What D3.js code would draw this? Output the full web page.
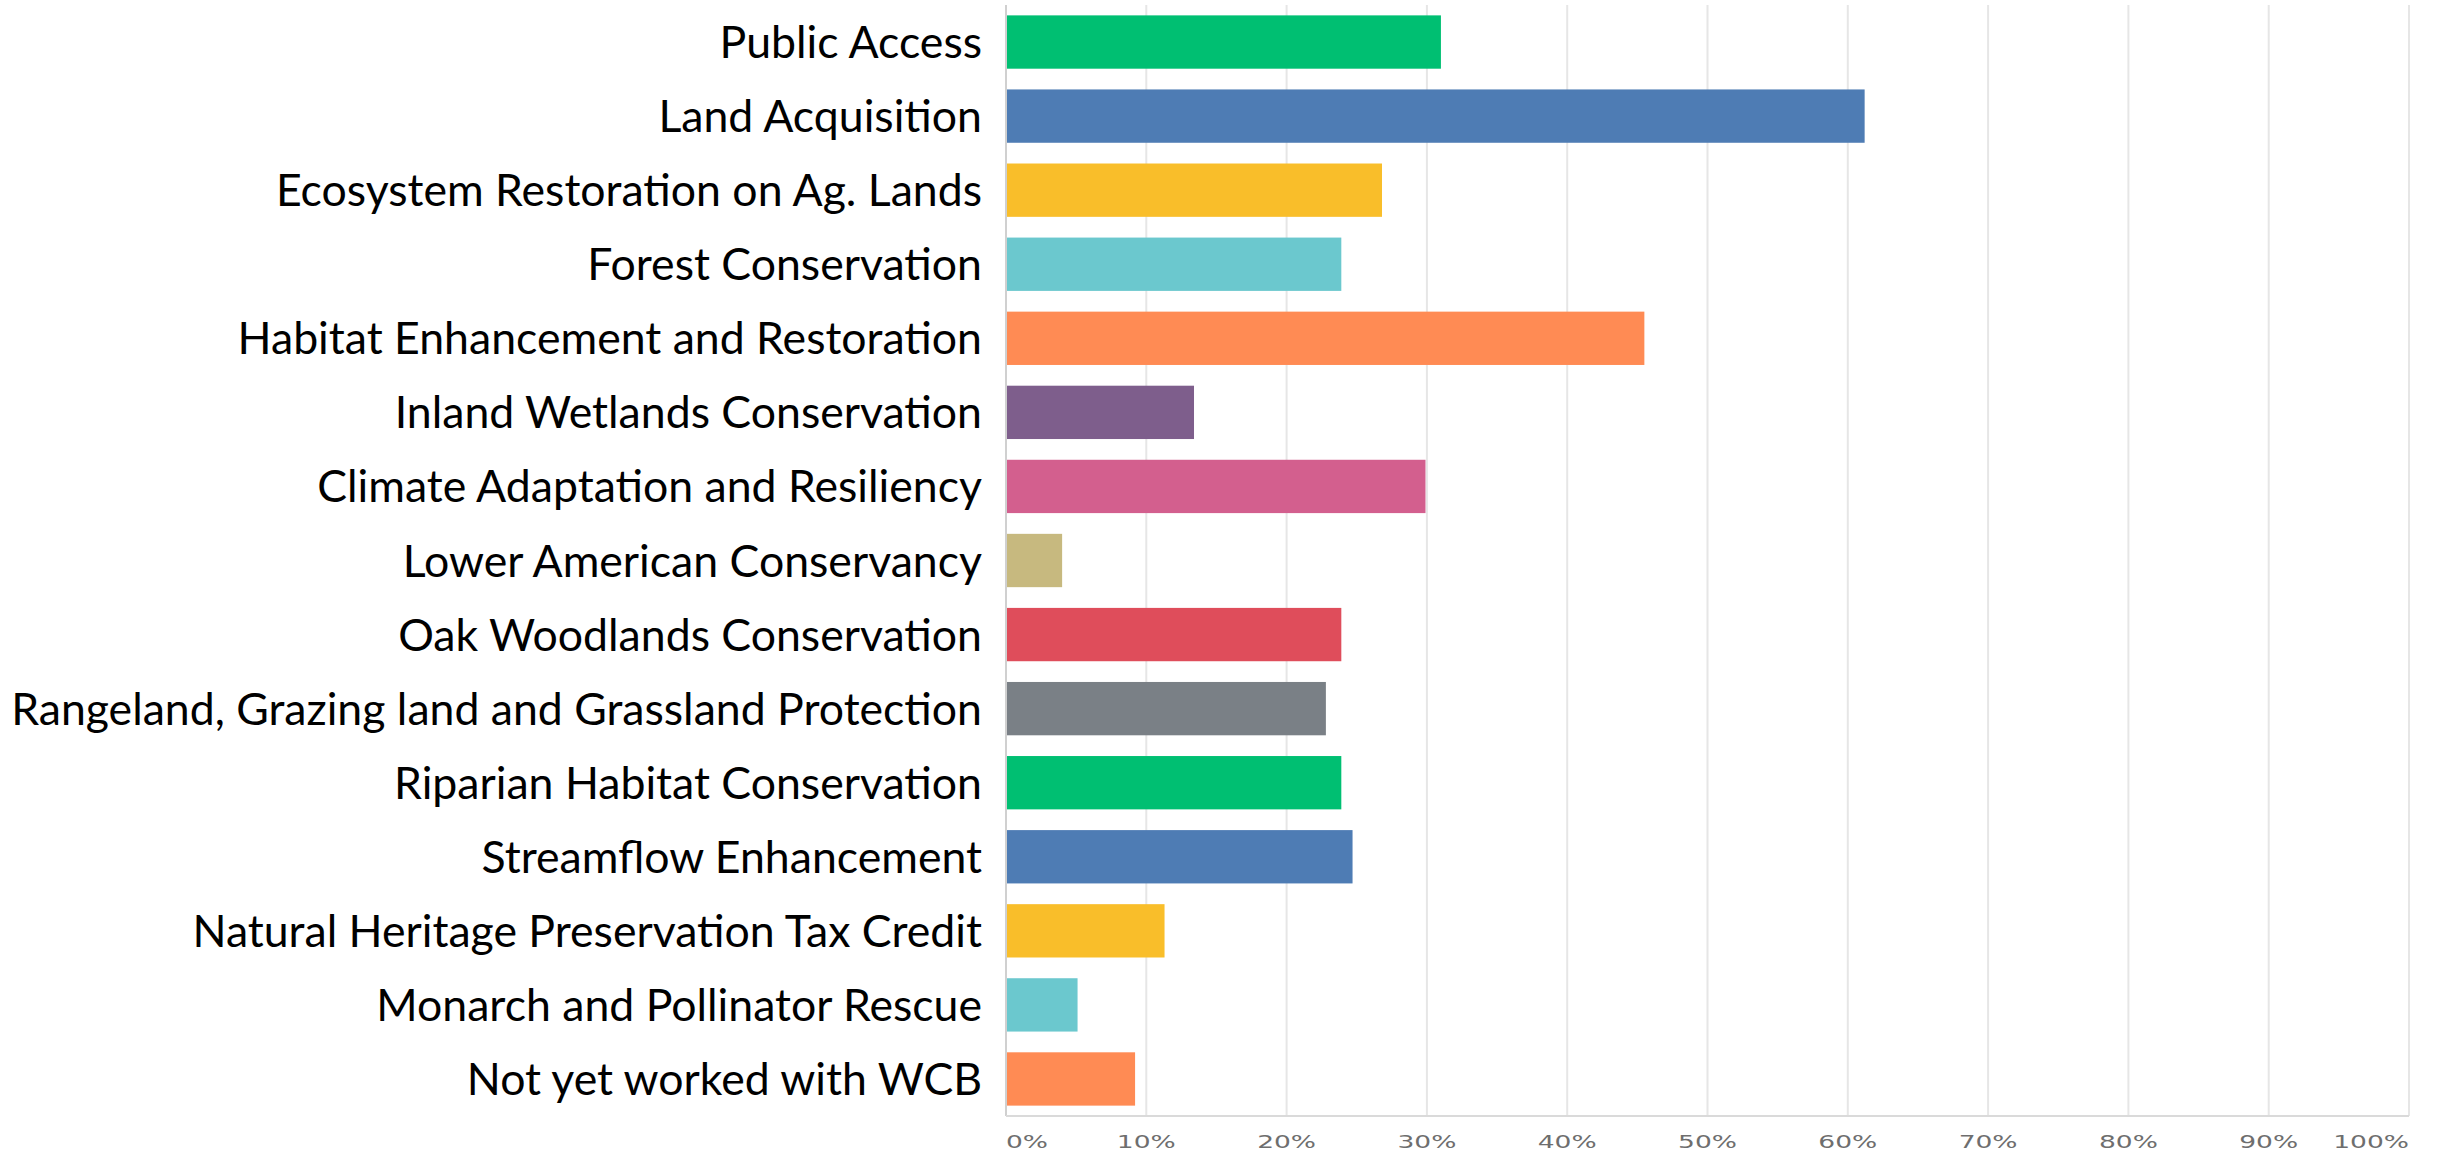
<!DOCTYPE html>
<html>
<head>
<meta charset="utf-8">
<script src="https://cdn.jsdelivr.net/npm/d3@7"></script>
<style>
  body { margin: 0; background: #fff; }
</style>
</head>
<body>
<div id="chart"></div>
<script>
var width = 2437;
var height = 1151;

// categories, top to bottom
var categories = [
  "Public Access",
  "Land Acquisition",
  "Ecosystem Restoration on Ag. Lands",
  "Forest Conservation",
  "Habitat Enhancement and Restoration",
  "Inland Wetlands Conservation",
  "Climate Adaptation and Resiliency",
  "Lower American Conservancy",
  "Oak Woodlands Conservation",
  "Rangeland, Grazing land and Grassland Protection",
  "Riparian Habitat Conservation",
  "Streamflow Enhancement",
  "Natural Heritage Preservation Tax Credit",
  "Monarch and Pollinator Rescue",
  "Not yet worked with WCB"
];

// share of respondents, percent
var values = [31, 61.2, 26.8, 23.9, 45.5, 13.4, 29.9, 4, 23.9, 22.8, 23.9, 24.7, 11.3, 5.1, 9.2];

var barColors = ["#00bf72", "#4e7cb4", "#f9be2a", "#6bc8ce", "#ff8b54", "#7e5e8c", "#d35f8e",
                 "#c7b97f", "#df4d5b", "#7a8086", "#00bf72", "#4e7cb4", "#f9be2a", "#6bc8ce", "#ff8b54"];

var tickValues = [0, 10, 20, 30, 40, 50, 60, 70, 80, 90, 100];
var tickLabels = ["0%", "10%", "20%", "30%", "40%", "50%", "60%", "70%", "80%", "90%", "100%"];

var margin = {left: 1006, right: 28, top: 5, bottom: 35};

var svg = d3.select("#chart").append("svg")
  .attr("width", width)
  .attr("height", height);

var x = d3.scaleLinear()
  .domain([0, 100])
  .range([margin.left, width - margin.right]);

var y = d3.scaleBand()
  .domain(categories)
  .range([margin.top, height - margin.bottom])
  .paddingInner(0.28)
  .paddingOuter(0.14);

var yBottom = height - margin.bottom;

// vertical grid lines
svg.append("g")
  .selectAll("line")
  .data(tickValues.slice(1))
  .join("line")
    .attr("x1", d => x(d))
    .attr("x2", d => x(d))
    .attr("y1", margin.top)
    .attr("y2", yBottom)
    .style("stroke", "#e6e6e6")
    .style("stroke-width", 2);

// bars
svg.append("g")
  .selectAll("rect")
  .data(values)
  .join("rect")
    .attr("x", x(0))
    .attr("y", (d, i) => y(categories[i]))
    .attr("width", d => x(d) - x(0))
    .attr("height", y.bandwidth())
    .style("fill", (d, i) => barColors[i]);

// left axis line and bottom axis line
svg.append("line")
  .attr("x1", x(0)).attr("x2", x(0))
  .attr("y1", margin.top).attr("y2", yBottom)
  .style("stroke", "#d0d0d0")
  .style("stroke-width", 2);

svg.append("line")
  .attr("x1", x(0)).attr("x2", x(100))
  .attr("y1", yBottom).attr("y2", yBottom)
  .style("stroke", "#dadada")
  .style("stroke-width", 2);

// category labels
svg.append("g")
  .selectAll("text")
  .data(categories)
  .join("text")
    .attr("x", x(0) - 24)
    .attr("y", d => y(d) + y.bandwidth() / 2)
    .attr("dy", "0.36em")
    .attr("text-anchor", "end")
    .style("font-family", "Lato, 'Open Sans', sans-serif")
    .style("font-size", "44.6px")
    .style("fill", "#000")
    .text(d => d);

// tick labels, wide geometric look -> stretch horizontally
svg.append("g")
  .selectAll("text")
  .data(tickValues)
  .join("text")
    .attr("transform", d => "translate(" + x(d) + "," + (yBottom + 32) + ") scale(1.56,1)")
    .attr("text-anchor", (d, i) => i == 0 ? "start" : (i == tickValues.length - 1 ? "end" : "middle"))
    .style("font-family", "'DejaVu Sans', sans-serif")
    .style("font-size", "17px")
    .style("fill", "#6e6e6e")
    .text((d, i) => tickLabels[i]);
</script>
</body>
</html>
